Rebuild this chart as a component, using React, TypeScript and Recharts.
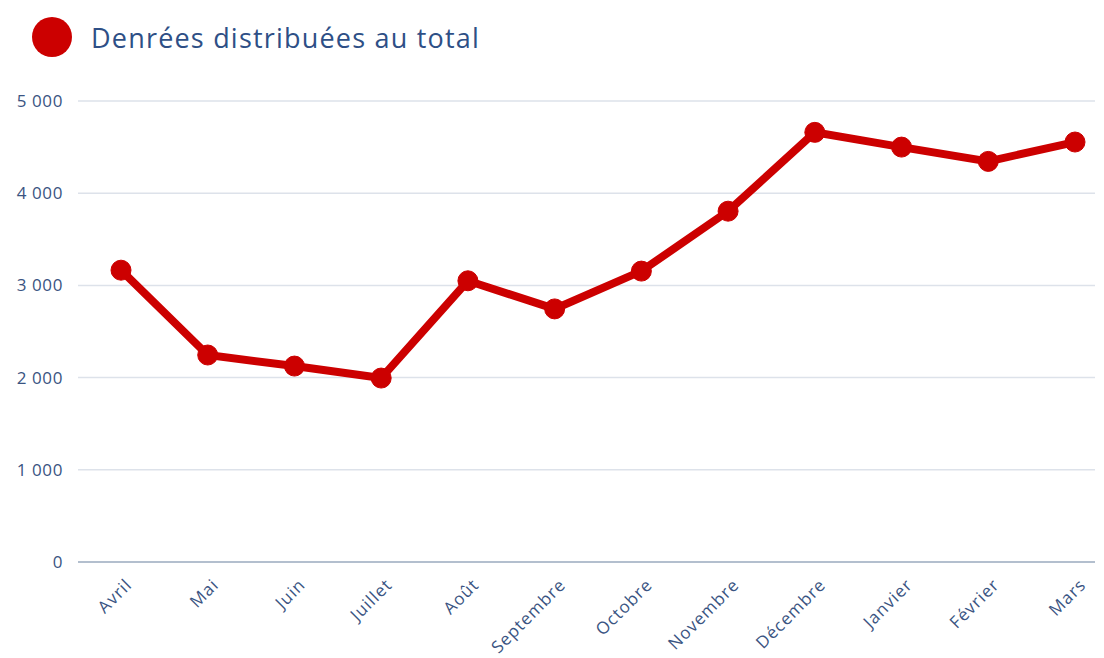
import React from 'react';
import { LineChart, Line, XAxis, YAxis, CartesianGrid } from 'recharts';

const months = ['Avril', 'Mai', 'Juin', 'Juillet', 'Août', 'Septembre', 'Octobre', 'Novembre', 'Décembre', 'Janvier', 'Février', 'Mars'];
const values = [3165, 2245, 2125, 1995, 3050, 2745, 3155, 3805, 4660, 4500, 4345, 4555];
const yTicks = [0, 1000, 2000, 3000, 4000, 5000];
const seriesName = 'Denrées distribuées au total';

const data = months.map((m, i) => ({ month: m, value: values[i] }));

const FONT = '"Open Sans", sans-serif';
const TEXT = '#3a5482';
const RED = '#cc0000';

const fmt = (v: number) => (v >= 1000 ? `${Math.floor(v / 1000)}\u00A0${String(v % 1000).padStart(3, '0')}` : String(v));

const XTick = (props: any) => {
  const { x, y, payload } = props;
  return (
    <g transform={`translate(${x + 12},${y + 16})`}>
      <text x={0} y={0} textAnchor="end" transform="rotate(-45)" fill={TEXT} fontSize={17} letterSpacing={1} fontFamily={FONT}>
        {payload.value}
      </text>
    </g>
  );
};

export default function App() {
  return (
    <div style={{ position: 'absolute', left: 0, top: 0, width: 1104, height: 658, background: '#fff' }}>
      <div style={{ position: 'absolute', left: 32, top: 17, width: 40, height: 40, borderRadius: '50%', background: RED }} />
      <div style={{ position: 'absolute', left: 91, top: 20, fontFamily: FONT, fontSize: 27, lineHeight: '36px', letterSpacing: 1.2, color: '#2e4f86', whiteSpace: 'nowrap' }}>
        {seriesName}
      </div>
      <LineChart width={1104} height={658} data={data} margin={{ top: 101, right: 9, left: 0, bottom: 0 }}>
        <CartesianGrid horizontal vertical={false} stroke="#dde2ea" strokeWidth={1.5} />
        <XAxis
          dataKey="month"
          height={96}
          padding={{ left: 43, right: 20 }}
          axisLine={{ stroke: '#b3bfce', strokeWidth: 2 }}
          tickLine={false}
          tick={<XTick />}
          interval={0}
        />
        <YAxis
          width={78}
          domain={[0, 5000]}
          ticks={yTicks}
          axisLine={false}
          tickLine={false}
          tickMargin={9}
          tickFormatter={fmt}
          tick={{ fill: TEXT, fontSize: 17, letterSpacing: 0.6, fontFamily: FONT }}
        />
        <Line
          type="linear"
          dataKey="value"
          name={seriesName}
          stroke={RED}
          strokeWidth={8}
          dot={{ r: 10, fill: RED, stroke: RED, strokeWidth: 1 }}
          activeDot={false}
          isAnimationActive={false}
        />
      </LineChart>
    </div>
  );
}
